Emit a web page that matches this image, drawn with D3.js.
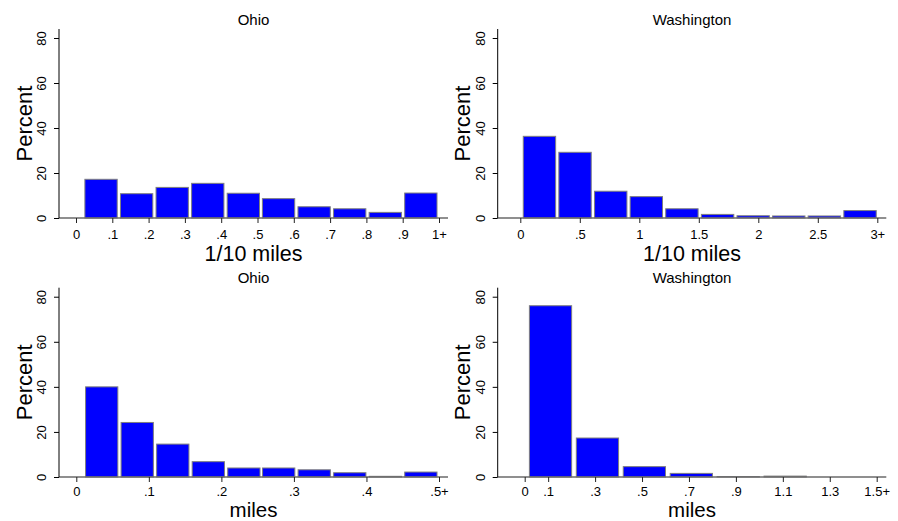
<!DOCTYPE html>
<html>
<head>
<meta charset="utf-8">
<script src="https://cdn.jsdelivr.net/npm/d3@7"></script>
<style>
  body { margin: 0; background: #fff; }
  svg { display: block; font-family: "Liberation Sans", Arial, sans-serif; }
</style>
</head>
<body>
<svg id="chart" width="898" height="521"></svg>
<script>
// Percent per bin
const yTicks = [0, 20, 40, 60, 80];

const ohioTenthTicks  = [0, 0.1, 0.2, 0.3, 0.4, 0.5, 0.6, 0.7, 0.8, 0.9, 1];
const ohioTenthLabels = ["0", ".1", ".2", ".3", ".4", ".5", ".6", ".7", ".8", ".9", "1+"];
const ohioTenthBins   = [0.069, 0.167, 0.265, 0.363, 0.461, 0.558, 0.656, 0.754, 0.852, 0.950];
const ohioTenthPct    = [17.2, 10.8, 13.6, 15.4, 11.0, 8.6, 5.0, 4.1, 2.5, 11.1];

const washTenthTicks  = [0, 0.5, 1, 1.5, 2, 2.5, 3];
const washTenthLabels = ["0", ".5", "1", "1.5", "2", "2.5", "3+"];
const washTenthBins   = [0.161, 0.460, 0.760, 1.059, 1.358, 1.658, 1.957, 2.256, 2.555, 2.855];
const washTenthPct    = [36.3, 29.2, 11.9, 9.5, 4.1, 1.6, 1.0, 0.9, 0.9, 3.3];

const ohioMilesTicks  = [0, 0.1, 0.2, 0.3, 0.4, 0.5];
const ohioMilesLabels = ["0", ".1", ".2", ".3", ".4", ".5+"];
const ohioMilesBins   = [0.035, 0.084, 0.133, 0.182, 0.231, 0.279, 0.328, 0.377, 0.426, 0.475];
const ohioMilesPct    = [40.0, 24.2, 14.6, 6.8, 4.0, 4.0, 3.2, 1.9, 0.3, 2.2];

const washMilesTicks  = [0, 0.1, 0.3, 0.5, 0.7, 0.9, 1.1, 1.3, 1.5];
const washMilesLabels = ["0", ".1", ".3", ".5", ".7", ".9", "1.1", "1.3", "1.5+"];
const washMilesBins   = [0.11, 0.31, 0.51, 0.71, 0.91, 1.11];
const washMilesPct    = [76.0, 17.3, 4.6, 1.6, 0.2, 0.4];

// panel layout: plot box + pixel span of the tick range
const panels = [
  { title: "Ohio", xTitle: "1/10 miles", left: 59, right: 448, top: 29, bottom: 218,
    tickY: 12, xTitleOff: 42.5, xTitleSize: 21.5,
    tickRange: [76, 439], ticks: ohioTenthTicks, labels: ohioTenthLabels,
    bins: ohioTenthBins, pct: ohioTenthPct, barW: 0.089 },
  { title: "Washington", xTitle: "1/10 miles", left: 497.7, right: 886.3, top: 29, bottom: 218,
    tickY: 12, xTitleOff: 42.5, xTitleSize: 21.5,
    tickRange: [520.3, 877.3], ticks: washTenthTicks, labels: washTenthLabels,
    bins: washTenthBins, pct: washTenthPct, barW: 0.272 },
  { title: "Ohio", xTitle: "miles", left: 59, right: 448, top: 287.7, bottom: 477,
    tickY: 10, xTitleOff: 40, xTitleSize: 20.5,
    tickRange: [76.3, 439], ticks: ohioMilesTicks, labels: ohioMilesLabels,
    bins: ohioMilesBins, pct: ohioMilesPct, barW: 0.0445 },
  { title: "Washington", xTitle: "miles", left: 497.7, right: 886.3, top: 287.7, bottom: 477,
    tickY: 10, xTitleOff: 40, xTitleSize: 20.5,
    tickRange: [524.7, 876.7], ticks: washMilesTicks, labels: washMilesLabels,
    bins: washMilesBins, pct: washMilesPct, barW: 0.18 }
];

const svg = d3.select("#chart");

panels.forEach(p => {
  const g = svg.append("g");

  const x = d3.scaleLinear()
    .domain([p.ticks[0], p.ticks[p.ticks.length - 1]])
    .range(p.tickRange);
  const y = d3.scaleLinear().domain([0, 84]).range([p.bottom, p.top]);

  /// bars
  g.selectAll("rect.bar")
    .data(p.bins.map((b, i) => ({ b: b, v: p.pct[i] })))
    .enter().append("rect")
    .attr("class", "bar")
    .attr("x", d => x(d.b - p.barW / 2))
    .attr("width", d => x(d.b + p.barW / 2) - x(d.b - p.barW / 2))
    .attr("y", d => y(d.v))
    .attr("height", d => y(0) - y(d.v))
    .attr("fill", "#0000ff")
    .attr("stroke", "#7f7f7f")
    .attr("stroke-width", 1);

  /// x axis (grey base line over the full plot width)
  g.append("line")
    .attr("x1", p.left).attr("x2", p.right)
    .attr("y1", p.bottom).attr("y2", p.bottom)
    .attr("stroke", "#6a6a6a")
    .attr("stroke-width", 1.6);

  const xAxis = g.append("g")
    .attr("transform", "translate(0," + p.bottom + ")")
    .call(d3.axisBottom(x)
      .tickValues(p.ticks)
      .tickFormat((d, i) => p.labels[i])
      .tickSize(5)
      .tickSizeOuter(0));
  xAxis.select(".domain").remove();
  xAxis.selectAll(".tick line").attr("stroke", "#222");
  xAxis.selectAll(".tick text")
    .attr("y", p.tickY)
    .attr("dy", "0.71em")
    .attr("font-size", 13)
    .attr("fill", "#000");

  /// y axis
  const yAxis = g.append("g")
    .attr("transform", "translate(" + p.left + ",0)")
    .call(d3.axisLeft(y).tickValues(yTicks).tickSize(5).tickSizeOuter(0));
  yAxis.select(".domain")
    .attr("d", "M0," + p.bottom + "V" + p.top)
    .attr("stroke", "#000");
  yAxis.selectAll(".tick line").attr("stroke", "#000");
  yAxis.selectAll(".tick text")
    .attr("x", null).attr("dy", null)
    .attr("transform", "translate(-12.7,0) rotate(-90)")
    .attr("text-anchor", "middle")
    .attr("font-size", 13)
    .attr("fill", "#000");

  /// titles
  const cx = (p.left + p.right) / 2;
  g.append("text")
    .attr("x", cx).attr("y", p.top - 4.5)
    .attr("text-anchor", "middle")
    .attr("font-size", 15)
    .text(p.title);

  g.append("text")
    .attr("x", cx).attr("y", p.bottom + p.xTitleOff)
    .attr("text-anchor", "middle")
    .attr("font-size", p.xTitleSize)
    .text(p.xTitle);

  g.append("text")
    .attr("transform", "translate(" + (p.left - 27.5) + "," + ((p.top + p.bottom) / 2) + ") rotate(-90)")
    .attr("text-anchor", "middle")
    .attr("font-size", 22)
    .text("Percent");
});
</script>
</body>
</html>
